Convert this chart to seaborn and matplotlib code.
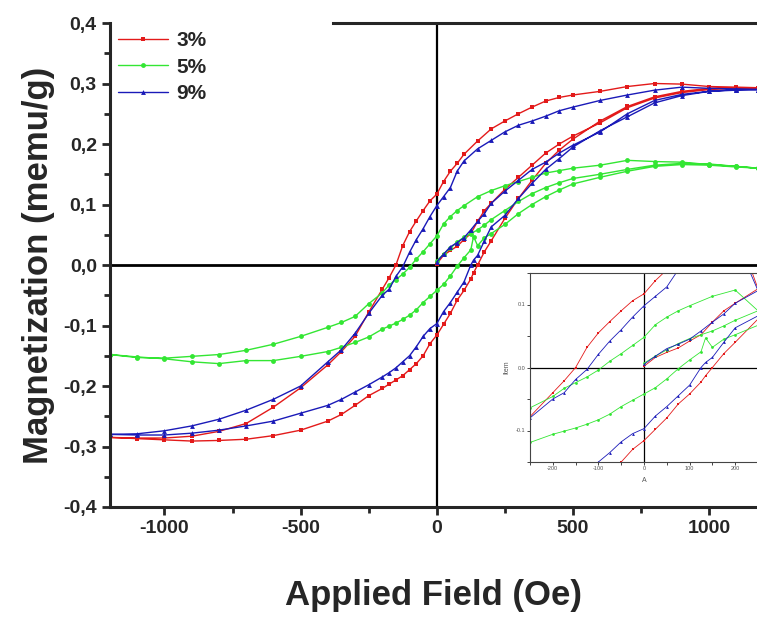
import numpy as np
import pandas as pd
import matplotlib.pyplot as plt
import matplotlib.ticker as mticker
import seaborn as sns

# field grids (Oe) for the three parts of each loop
h_virgin = [0, 25, 50, 75, 100, 125, 150, 175, 200, 250, 300, 350, 400, 450, 500,
            600, 700, 800, 900, 1000, 1100, 1180]
h_down = [1180, 1100, 1000, 900, 800, 700, 600, 500, 450, 400, 350, 300, 250, 200,
          150, 100, 75, 50, 25, 0, -25, -50, -75, -100, -125, -150, -175, -200,
          -250, -300, -350, -400, -500, -600, -700, -800, -900, -1000, -1100, -1200]
h_up = [-1200, -1100, -1000, -900, -800, -700, -600, -500, -400, -350, -300, -250,
        -200, -175, -150, -125, -100, -75, -50, -25, 0, 25, 50, 75, 100, 125, 135,
        150, 175, 200, 250, 300, 350, 400, 450, 500, 600, 700, 800, 900, 1000, 1100, 1180]

# 3 %
m3_virgin = [0.002, 0.016, 0.024, 0.031, 0.042, 0.052, 0.072, 0.090, 0.102, 0.125, 0.145,
             0.165, 0.185, 0.200, 0.213, 0.235, 0.260, 0.276, 0.285, 0.290, 0.292, 0.293]
m3_down = [0.293, 0.294, 0.295, 0.299, 0.300, 0.295, 0.287, 0.281, 0.277, 0.271, 0.261,
           0.250, 0.238, 0.225, 0.205, 0.183, 0.168, 0.155, 0.138, 0.117, 0.106, 0.090,
           0.073, 0.055, 0.032, 0.000, -0.021, -0.040, -0.078, -0.118, -0.143, -0.165,
           -0.203, -0.235, -0.262, -0.275, -0.283, -0.286, -0.286, -0.285]
m3_up = [-0.285, -0.287, -0.289, -0.291, -0.290, -0.288, -0.282, -0.273, -0.258, -0.247,
         -0.232, -0.216, -0.204, -0.197, -0.190, -0.183, -0.173, -0.163, -0.150, -0.130,
         -0.116, -0.098, -0.080, -0.058, -0.042, -0.023, -0.013, 0.000, 0.022, 0.040,
         0.077, 0.110, 0.140, 0.168, 0.190, 0.208, 0.238, 0.262, 0.278, 0.287, 0.292,
         0.293, 0.293]

# 5 %
m5_virgin = [0.007, 0.018, 0.028, 0.038, 0.046, 0.052, 0.058, 0.066, 0.075, 0.090, 0.105,
             0.118, 0.128, 0.136, 0.143, 0.150, 0.158, 0.165, 0.168, 0.167, 0.163, 0.160]
m5_down = [0.160, 0.163, 0.166, 0.170, 0.171, 0.173, 0.165, 0.160, 0.156, 0.152, 0.145,
           0.138, 0.131, 0.123, 0.113, 0.098, 0.090, 0.080, 0.068, 0.048, 0.035, 0.022,
           0.010, -0.004, -0.015, -0.024, -0.033, -0.046, -0.064, -0.085, -0.095, -0.103,
           -0.118, -0.131, -0.141, -0.148, -0.151, -0.154, -0.153, -0.148]
m5_up = [-0.148, -0.152, -0.155, -0.160, -0.163, -0.158, -0.158, -0.151, -0.143, -0.136,
         -0.128, -0.119, -0.106, -0.101, -0.096, -0.090, -0.083, -0.074, -0.062, -0.052,
         -0.042, -0.032, -0.018, -0.002, 0.012, 0.025, 0.047, 0.032, 0.045, 0.052,
         0.067, 0.085, 0.100, 0.113, 0.124, 0.134, 0.145, 0.155, 0.163, 0.166, 0.165,
         0.162, 0.160]

# 9 %
m9_virgin = [0.005, 0.018, 0.030, 0.037, 0.045, 0.058, 0.072, 0.085, 0.102, 0.122, 0.140,
             0.158, 0.170, 0.185, 0.198, 0.220, 0.250, 0.272, 0.282, 0.287, 0.289, 0.290]
m9_down = [0.290, 0.291, 0.292, 0.294, 0.289, 0.281, 0.272, 0.261, 0.255, 0.246, 0.238,
           0.231, 0.220, 0.206, 0.192, 0.172, 0.155, 0.128, 0.113, 0.098, 0.080, 0.060,
           0.042, 0.021, -0.003, -0.019, -0.040, -0.050, -0.080, -0.113, -0.140, -0.160,
           -0.200, -0.222, -0.240, -0.255, -0.266, -0.274, -0.279, -0.280]
m9_up = [-0.280, -0.281, -0.281, -0.278, -0.273, -0.266, -0.258, -0.245, -0.232, -0.222,
         -0.210, -0.198, -0.185, -0.178, -0.170, -0.160, -0.150, -0.135, -0.118, -0.105,
         -0.097, -0.077, -0.062, -0.045, -0.028, 0.000, 0.008, 0.016, 0.040, 0.063,
         0.082, 0.110, 0.135, 0.158, 0.176, 0.195, 0.222, 0.245, 0.268, 0.280, 0.287,
         0.290, 0.290]

samples = ['3%', '5%', '9%']
colors = {'3%': '#e31a1a', '5%': '#33e633', '9%': '#1a1ab8'}
markers = {'3%': 's', '5%': 'o', '9%': '^'}
curves = {'3%': (m3_virgin, m3_down, m3_up),
          '5%': (m5_virgin, m5_down, m5_up),
          '9%': (m9_virgin, m9_down, m9_up)}

rows = []
for s in samples:
    step = 0
    for hs, ms in zip((h_virgin, h_down, h_up), curves[s]):
        for h, m in zip(hs, ms):
            rows.append((s, step, h, m))
            step += 1
data = pd.DataFrame(rows, columns=['Sample', 'step', 'H', 'M'])

sns.set_style('ticks')
plt.rcParams['font.family'] = ['Liberation Sans', 'DejaVu Sans']
plt.rcParams['font.weight'] = 'bold'
plt.rcParams['axes.unicode_minus'] = False

fig = plt.figure(figsize=(7.57, 6.19), dpi=100)
ax = fig.add_axes([110 / 757, 112 / 619, 647 / 757, 484 / 619])

for s in samples:
    sns.lineplot(data=data[data['Sample'] == s], x='H', y='M', sort=False, estimator=None,
                 color=colors[s], marker=markers[s], markersize=3.5, markeredgewidth=0,
                 linewidth=1.0, label=s, ax=ax)

ax.axhline(0, color='black', lw=2, zorder=1)
ax.axvline(0, color='black', lw=1.6, zorder=1)

ax.set_xlim(-1200, 1176)
ax.set_ylim(-0.4, 0.4)
ax.set_xticks([-1000, -500, 0, 500, 1000])
ax.xaxis.set_minor_locator(mticker.MultipleLocator(250))
ax.set_yticks(np.arange(-0.4, 0.41, 0.1))
ax.yaxis.set_minor_locator(mticker.MultipleLocator(0.05))
ax.yaxis.set_major_formatter(mticker.FuncFormatter(lambda v, p: f'{v:.1f}'.replace('.', ',').replace('-0,0', '0,0')))
ax.tick_params(which='major', length=6, width=2, labelsize=14)
ax.tick_params(which='minor', length=4, width=2)
for lab in ax.get_xticklabels() + ax.get_yticklabels():
    lab.set_fontweight('bold')

for sp in ['left', 'bottom', 'top']:
    ax.spines[sp].set_linewidth(2.2)
ax.spines['right'].set_visible(False)
ax.spines['top'].set_bounds(-380, 1200)

ax.set_xlabel('Applied Field (Oe)', fontsize=25, fontweight='bold', labelpad=30)
ax.set_ylabel('Magnetization (memu/g)', fontsize=25, fontweight='bold', labelpad=6)

leg = ax.legend(loc='upper left', frameon=False, fontsize=15, handlelength=2.4,
                borderaxespad=0.1, borderpad=0.3, labelspacing=0.35, handletextpad=0.4)
for t in leg.get_texts():
    t.set_fontweight('bold')

# inset zoom around the origin
ins = fig.add_axes([530 / 757, 157 / 619, 228 / 757, 189 / 619])
for s in samples:
    sns.lineplot(data=data[data['Sample'] == s], x='H', y='M', sort=False, estimator=None,
                 color=colors[s], marker=markers[s], markersize=2, markeredgewidth=0,
                 linewidth=0.6, legend=False, ax=ins)
ins.axhline(0, color='black', lw=0.9, zorder=1)
ins.axvline(0, color='black', lw=0.9, zorder=1)
ins.set_xlim(-250, 250)
ins.set_ylim(-0.15, 0.15)
ins.set_xticks([-200, -100, 0, 100, 200])
ins.xaxis.set_minor_locator(mticker.MultipleLocator(50))
ins.set_yticks([-0.1, 0.0, 0.1])
ins.yaxis.set_minor_locator(mticker.MultipleLocator(0.05))
ins.tick_params(which='both', labelsize=4, length=2, width=0.6, pad=1)
for lab in ins.get_xticklabels() + ins.get_yticklabels():
    lab.set_fontweight('normal')
    lab.set_color('#555555')
for sp in ins.spines.values():
    sp.set_linewidth(0.8)
    sp.set_color('#444444')
ins.set_xlabel('A', fontsize=5, fontweight='normal', color='#555555', labelpad=4)
ins.set_ylabel('Item', fontsize=5, fontweight='normal', color='#555555', labelpad=4)

fig.savefig('out.png', dpi=100)
